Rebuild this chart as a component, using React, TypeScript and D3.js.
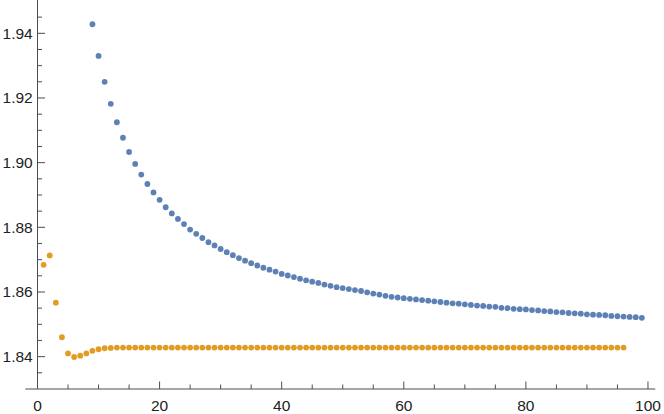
import { useRef, useEffect } from 'react';
import * as d3 from 'd3';

// blue series: n = 9..99
const blueStart = 9;
const blueValues = [
  1.9428, 1.9330, 1.9250, 1.9182, 1.9125, 1.9077, 1.9033, 1.8996, 1.8963, 1.8934,
  1.8908, 1.8885, 1.8862, 1.8843, 1.8826, 1.8810, 1.8793, 1.8780, 1.8767, 1.8754,
  1.8744, 1.8733, 1.8723, 1.8714, 1.8705, 1.8697, 1.8689, 1.8682, 1.8675, 1.8669,
  1.8663, 1.8656, 1.8651, 1.8646, 1.8641, 1.8636, 1.8632, 1.8628, 1.8623, 1.8619,
  1.8615, 1.8612, 1.8609, 1.8606, 1.8603, 1.8599, 1.8595, 1.8592, 1.8588, 1.8585,
  1.8583, 1.8581, 1.8579, 1.8577, 1.8575, 1.8573, 1.8571, 1.8569, 1.8567, 1.8565,
  1.8564, 1.8562, 1.8560, 1.8558, 1.8557, 1.8555, 1.8554, 1.8551, 1.8550, 1.8548,
  1.8547, 1.8546, 1.8544, 1.8543, 1.8541, 1.8540, 1.8538, 1.8537, 1.8535, 1.8534,
  1.8533, 1.8531, 1.8530, 1.8529, 1.8528, 1.8526, 1.8525, 1.8524, 1.8523, 1.8522,
  1.8520,
];

// orange series: n = 1..96
const orangeStart = 1;
const orangeValues = [
  1.8684, 1.8713, 1.8567, 1.8460, 1.8410, 1.8399, 1.8403, 1.8410, 1.8418, 1.8423,
  1.8426, 1.8427, 1.8428, 1.8428, 1.8428, 1.8428, 1.8428, 1.8428, 1.8428, 1.8428,
  1.8428, 1.8428, 1.8428, 1.8428, 1.8428, 1.8428, 1.8428, 1.8428, 1.8428, 1.8428,
  1.8428, 1.8428, 1.8428, 1.8428, 1.8428, 1.8428, 1.8428, 1.8428, 1.8428, 1.8428,
  1.8428, 1.8428, 1.8428, 1.8428, 1.8428, 1.8428, 1.8428, 1.8428, 1.8428, 1.8428,
  1.8428, 1.8428, 1.8428, 1.8428, 1.8428, 1.8428, 1.8428, 1.8428, 1.8428, 1.8428,
  1.8428, 1.8428, 1.8428, 1.8428, 1.8428, 1.8428, 1.8428, 1.8428, 1.8428, 1.8428,
  1.8428, 1.8428, 1.8428, 1.8428, 1.8428, 1.8428, 1.8428, 1.8428, 1.8428, 1.8428,
  1.8428, 1.8428, 1.8428, 1.8428, 1.8428, 1.8428, 1.8428, 1.8428, 1.8428, 1.8428,
  1.8428, 1.8428, 1.8428, 1.8428, 1.8428, 1.8428,
];

const xMajor = [0, 20, 40, 60, 80, 100];
const xMinor = [5, 10, 15, 25, 30, 35, 45, 50, 55, 65, 70, 75, 85, 90, 95];
const yMajor = [1.84, 1.86, 1.88, 1.90, 1.92, 1.94];
const yMinor = [1.835, 1.845, 1.85, 1.855, 1.865, 1.87, 1.875, 1.885, 1.89, 1.895, 1.905, 1.91, 1.915, 1.925, 1.93, 1.935, 1.945];

export default function App() {
  const ref = useRef<SVGSVGElement>(null);

  useEffect(() => {
    document.body.style.margin = '0';
    const svg = d3.select(ref.current);
    svg.selectAll('*').remove();

    const W = 664, H = 414;
    const x = d3.scaleLinear().domain([-2, 101.2]).range([25.3, 655.3]);
    const y = d3.scaleLinear().domain([1.83, 1.9503]).range([389, 0]);
    const axisColor = '#4d4d4d';
    const labelColor = '#222';
    const font = '"Liberation Sans", Arial, sans-serif';
    const fontSize = '15.5px';

    const g = svg.append('g');

    // axes lines
    g.append('line')
      .attr('x1', x(-2)).attr('x2', x(101.2))
      .attr('y1', y(1.83)).attr('y2', y(1.83))
      .attr('stroke', axisColor).attr('stroke-width', 1);
    g.append('line')
      .attr('x1', x(0)).attr('x2', x(0))
      .attr('y1', y(1.83)).attr('y2', 0)
      .attr('stroke', axisColor).attr('stroke-width', 1);

    // x ticks (pointing up)
    g.selectAll('line.xmaj').data(xMajor).enter().append('line')
      .attr('x1', d => x(d)).attr('x2', d => x(d))
      .attr('y1', y(1.83)).attr('y2', y(1.83) - 7.5)
      .attr('stroke', axisColor);
    g.selectAll('line.xmin').data(xMinor).enter().append('line')
      .attr('x1', d => x(d)).attr('x2', d => x(d))
      .attr('y1', y(1.83)).attr('y2', y(1.83) - 4.5)
      .attr('stroke', axisColor);
    g.selectAll('text.xl').data(xMajor).enter().append('text')
      .attr('x', d => x(d)).attr('y', 410.5)
      .attr('text-anchor', 'middle')
      .attr('fill', labelColor).style('font-family', font).style('font-size', fontSize)
      .text(d => String(d));

    // y ticks (pointing right)
    g.selectAll('line.ymaj').data(yMajor).enter().append('line')
      .attr('x1', x(0)).attr('x2', x(0) + 7.5)
      .attr('y1', d => y(d)).attr('y2', d => y(d))
      .attr('stroke', axisColor);
    g.selectAll('line.ymin').data(yMinor).enter().append('line')
      .attr('x1', x(0)).attr('x2', x(0) + 4.5)
      .attr('y1', d => y(d)).attr('y2', d => y(d))
      .attr('stroke', axisColor);
    g.selectAll('text.yl').data(yMajor).enter().append('text')
      .attr('x', x(0) - 4.8).attr('y', d => y(d)).attr('dy', '0.35em')
      .attr('text-anchor', 'end')
      .attr('fill', labelColor).style('font-family', font).style('font-size', fontSize)
      .text(d => d3.format('.2f')(d));

    // points
    const blue = blueValues.map((v, i) => ({ n: blueStart + i, v }));
    const orange = orangeValues.map((v, i) => ({ n: orangeStart + i, v }));

    g.selectAll('circle.o').data(orange).enter().append('circle')
      .attr('cx', d => x(d.n)).attr('cy', d => y(d.v))
      .attr('r', 2.9).attr('fill', '#E19C24');
    g.selectAll('circle.b').data(blue).enter().append('circle')
      .attr('cx', d => x(d.n)).attr('cy', d => y(d.v))
      .attr('r', 2.9).attr('fill', '#5E81B5');

    svg.attr('width', W).attr('height', H);
  }, []);

  return <svg ref={ref} width={664} height={414} style={{ display: 'block' }} />;
}
